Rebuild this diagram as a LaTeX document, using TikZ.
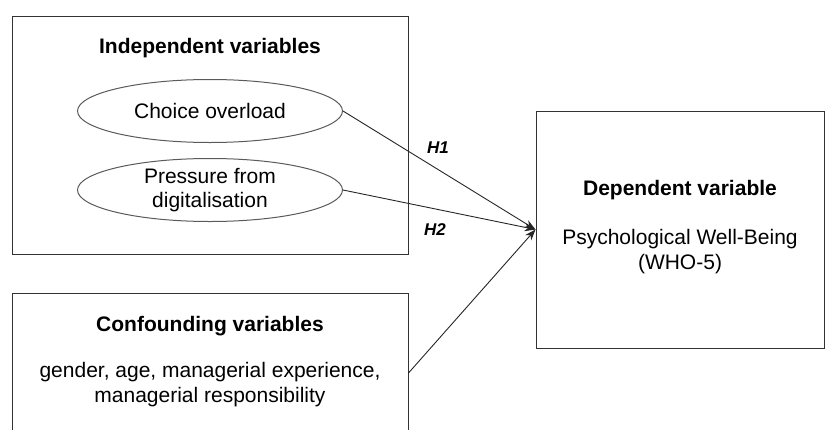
\documentclass[tikz,border=0pt]{standalone}
\usepackage{fontspec}
\setmainfont{Liberation Sans}
\usetikzlibrary{shapes,arrows.meta,positioning}
\definecolor{frame}{RGB}{51,51,51}
\definecolor{rim}{RGB}{90,90,90}

\begin{document}
\begin{tikzpicture}[x=1pt,y=-1pt,
  box/.style={draw=frame,line width=1pt,rectangle,inner sep=0pt},
  varell/.style={draw=rim,line width=1pt,ellipse,inner sep=0pt,minimum width=265pt,minimum height=63pt,align=center,font=\fontsize{21}{24}\selectfont},
  heading/.style={font=\fontsize{21}{25}\selectfont\bfseries},
  plain/.style={align=center,font=\fontsize{21}{25}\selectfont},
  hyp/.style={font=\fontsize{17}{20}\selectfont\bfseries\itshape},
  link/.style={draw=black!85,line width=0.9pt,-{Stealth[length=11pt,width=8pt]}}]
\useasboundingbox (0,0) rectangle (825,429);
\clip (0,0) rectangle (825,429);
% boxes
\node[box,minimum width=396pt,minimum height=238pt] (indep) at (210,135) {};
\node[box,minimum width=396pt,minimum height=160pt] (conf) at (210,373) {};
\node[box,minimum width=288pt,minimum height=237pt] (dep) at (680,229.5) {};
% texts
\node[heading] (indeptitle) at (210,48) {Independent variables};
\node[varell] (choice) at (210,111) {Choice overload};
\node[varell] (pressure) at (210,190) {Pressure from\\digitalisation};
\node[heading] (conftitle) at (210,326) {Confounding variables};
\node[plain] (conftext) at (210,385) {gender, age, managerial experience,\\managerial responsibility};
\node[heading] (deptitle) at (680,190) {Dependent variable};
\node[plain] (deptext) at (680,252) {Psychological Well-Being\\(WHO-5)};
% paths
\draw[link] (choice.east) -- (dep.west);
\draw[link] (pressure.east) -- (dep.west);
\draw[link] (conf.east) -- (dep.west);
\node[hyp] (h1) at (438,148) {H1};
\node[hyp] (h2) at (435,230) {H2};
\end{tikzpicture}
\end{document}
